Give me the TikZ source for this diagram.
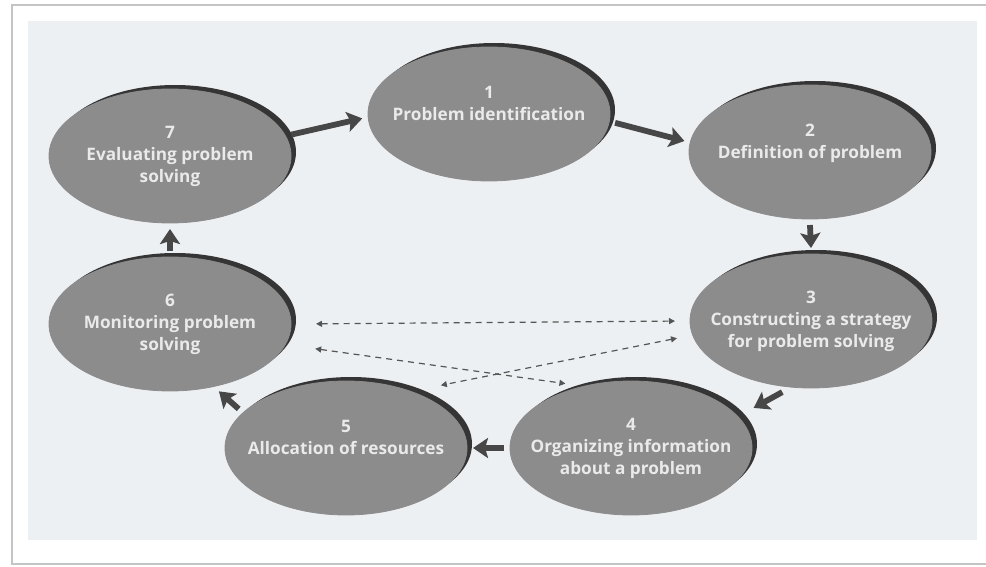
\documentclass[tikz,border=0pt]{standalone}
\usepackage{fontspec}
\newfontfamily\labelfont{Open Sans}
\usetikzlibrary{shapes.geometric,arrows.meta,shadows}

\definecolor{panel}{HTML}{EDF0F2}
\definecolor{framegray}{HTML}{C4C4C4}
\definecolor{stagegray}{HTML}{8C8C8C}
\definecolor{stageshadow}{HTML}{353535}
\definecolor{stagetext}{HTML}{EAEAEA}
\definecolor{arrowgray}{HTML}{474747}
\definecolor{linkgray}{HTML}{555555}

\tikzset{
  stage/.style={ellipse, fill=stagegray, draw=black!45, line width=0.4pt,
    minimum width=121pt, minimum height=67pt, inner sep=0pt, outer sep=3pt,
    drop shadow={shadow xshift=2.5pt, shadow yshift=2pt, fill=stageshadow, opacity=1},
    label={[text=stagetext, align=center,
      font=\labelfont\bfseries\fontsize{8.6}{11}\selectfont]center:#1}},
  flow/.style={-{Stealth[length=7.5pt,width=10pt,inset=1.5pt]}, line width=2.9pt, draw=arrowgray},
  link/.style={{Triangle[length=3pt,width=3pt]}-{Triangle[length=3pt,width=3pt]},
    dash pattern=on 3pt off 2.5pt, line width=0.6pt, draw=linkgray}
}

\begin{document}
\begin{tikzpicture}[x=0.5pt,y=-0.5pt]
\useasboundingbox (0,0) rectangle (986,567);
\fill[white] (0,0) rectangle (986,567);
\draw[framegray, line width=1pt] (12,5) rectangle (996,564);
\fill[panel] (28,21) rectangle (977,540);

% the seven stages of the cycle
\node[stage={1\\Problem identification\\\mbox{}}] (n1) at (489,114) {};
\node[stage={2\\Definition of problem\\\mbox{}}] (n2) at (810,152) {};
\node[stage={3\\Constructing a strategy\\for problem solving}] (n3) at (811,321) {};
\node[stage={4\\Organizing information\\about a problem}] (n4) at (631,448) {};
\node[stage={5\\Allocation of resources\\\mbox{}}] (n5) at (346,448) {};
\node[stage={6\\Monitoring problem\\solving}] (n6) at (170,324) {};
\node[stage={7\\Evaluating problem\\solving}] (n7) at (170,156) {};

% main cycle
\draw[flow] (n7.10) -- (n1.182);
\draw[flow] (n1.-4) -- (n2.175);
\draw[flow] (n2.south) -- (n3.north);
\draw[flow, shorten >=6pt] (n3.-112) -- (n4.17);
\draw[flow] (n4.west) -- (n5.east);
\draw[flow] (n5.160) -- (n6.-54);
\draw[flow] (n6.north) -- (n7.south);

% monitoring links
\draw[link, shorten <=9.5pt, shorten >=4.5pt] (n6.east) -- (n3.west);
\draw[link, shorten <=12pt, shorten >=2pt] (n6.-10) -- (n4.134);
\draw[link, shorten <=5pt, shorten >=10pt] (n3.-173) -- (n5.38);
\end{tikzpicture}
\end{document}
